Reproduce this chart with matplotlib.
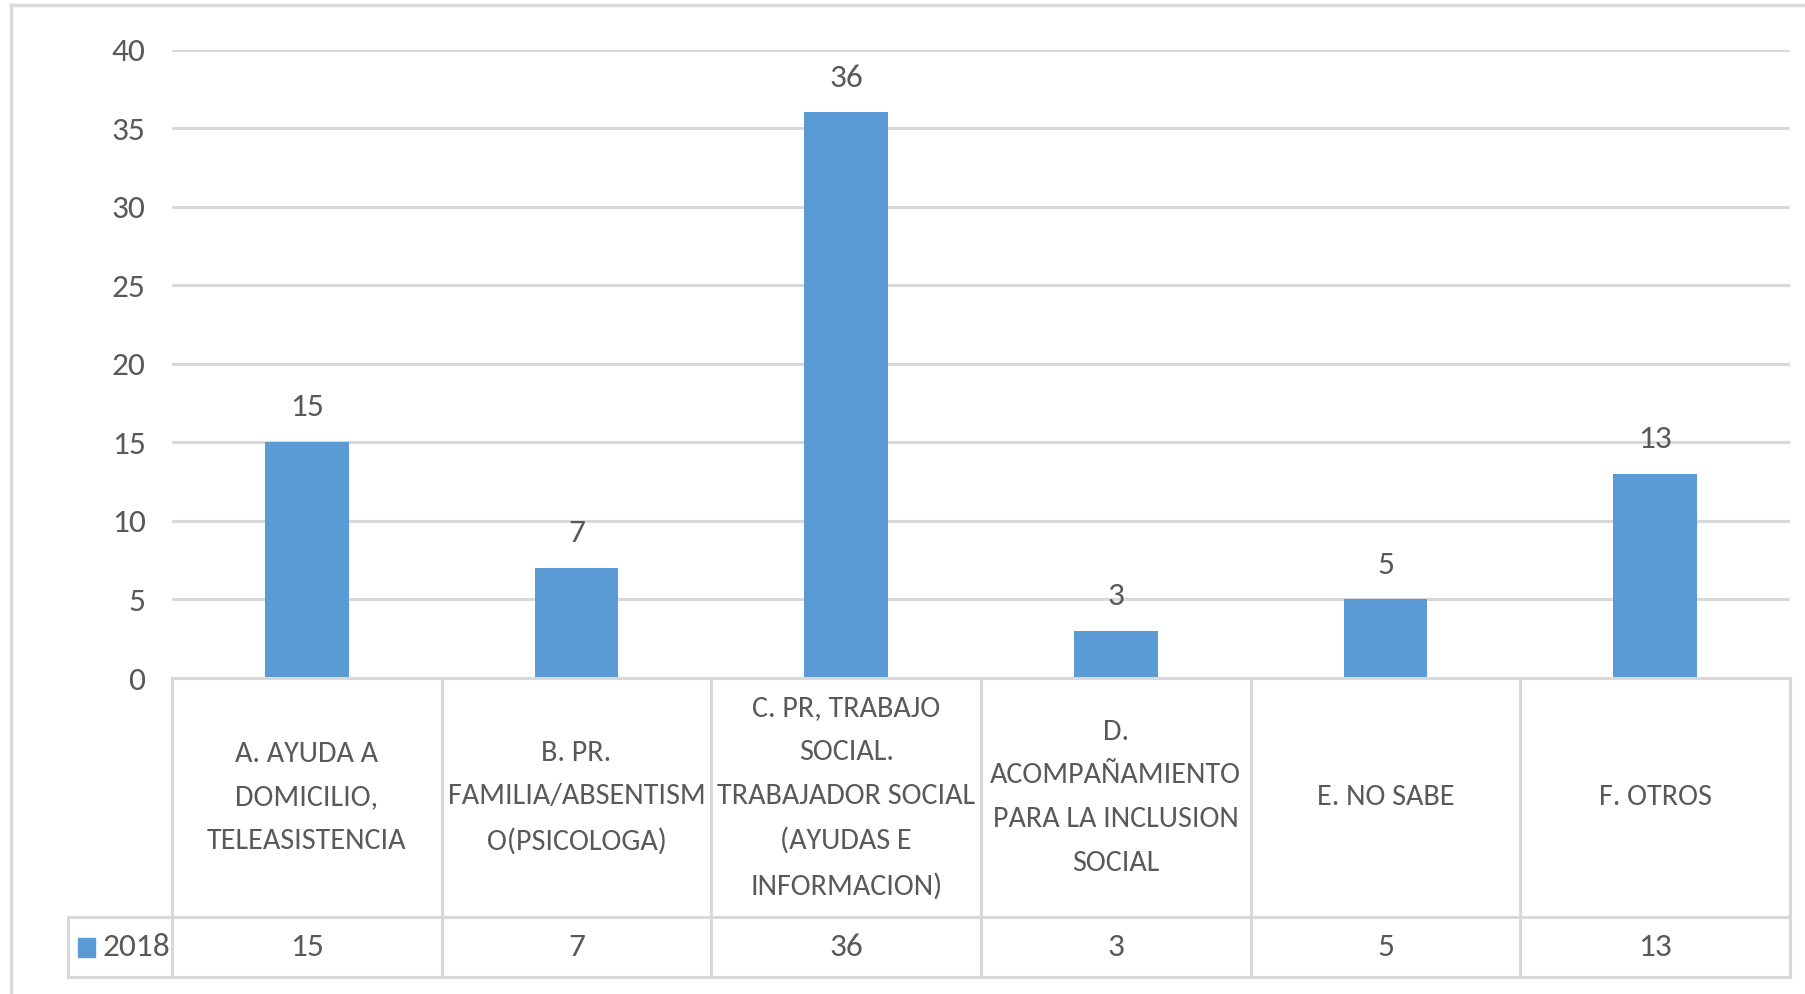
import matplotlib
matplotlib.use("Agg")
import matplotlib.pyplot as plt
from matplotlib.patches import Rectangle
from matplotlib import font_manager
from matplotlib.textpath import TextPath
from matplotlib.font_manager import FontProperties

categories = [
    "A. AYUDA A\nDOMICILIO,\nTELEASISTENCIA",
    "B. PR.\nFAMILIA/ABSENTISM\nO(PSICOLOGA)",
    "C. PR, TRABAJO\nSOCIAL.\nTRABAJADOR SOCIAL\n(AYUDAS E\nINFORMACION)",
    "D.\nACOMPAÑAMIENTO\nPARA LA INCLUSION\nSOCIAL",
    "E. NO SABE",
    "F. OTROS",
]
values_2018 = [15, 7, 36, 3, 5, 13]
series_name = "2018"
yticks = [0, 5, 10, 15, 20, 25, 30, 35, 40]

names = {f.name for f in font_manager.fontManager.ttflist}
fam = "Lato"
for cand in ["Carlito", "Roboto Condensed", "PT Sans Narrow", "Archivo Narrow",
             "Fira Sans Condensed", "Liberation Sans Narrow"]:
    if cand in names:
        fam = cand
        break
plt.rcParams["font.family"] = [fam, "DejaVu Sans"]

# fit category-label font size so the widest line matches the reference (~258 px)
fp = FontProperties(family=fam)
w_pt = TextPath((0, 0), "TRABAJADOR SOCIAL", size=20, prop=fp).get_extents().width
FS_CAT = min(20 * (258 * 0.72) / w_pt, 24)
FS = 24

BAR = "#5B9BD5"
TXT = "#595959"
GRID = "#D9D9D9"

W, H = 1805, 994
fig = plt.figure(figsize=(W / 100, H / 100), dpi=100)
x0, x1 = 172, 1790
ytop, ybot = 49.5, 678
ax = fig.add_axes([x0 / W, 1 - ybot / H, (x1 - x0) / W, (ybot - ytop) / H])

xs = list(range(len(values_2018)))
ax.bar(xs, values_2018, width=0.31, color=BAR, zorder=3)
ax.set_xlim(-0.5, len(xs) - 0.5)
ax.set_ylim(0, 40)
ax.set_yticks(yticks)
ax.set_yticklabels([str(t) for t in yticks], fontsize=FS, color=TXT)
ax.tick_params(axis="y", length=0, pad=19)
ax.set_xticks([])
for s in ax.spines.values():
    s.set_visible(False)
ax.grid(axis="y", color=GRID, linewidth=2.2, zorder=0)
ax.set_axisbelow(True)

for x, v in zip(xs, values_2018):
    ax.annotate(str(v), (x, v), xytext=(0, 15), textcoords="offset points",
                ha="center", va="bottom", fontsize=FS, color=TXT)

# data table
tr = ax.get_xaxis_transform()
axh = ybot - ytop
hdr_b = -(916.7 - ybot) / axh
row_b = -(976.7 - ybot) / axh
per = (x1 - x0) / len(xs)
leg_l = -0.5 - (x0 - 68) / per
lw = 2.2
ax.plot([-0.5, len(xs) - 0.5], [0, 0], transform=tr, color=GRID, lw=lw, clip_on=False, zorder=4)
for i in range(len(xs) + 1):
    ax.plot([i - 0.5, i - 0.5], [0, row_b], transform=tr, color=GRID, lw=lw, clip_on=False)
ax.plot([leg_l, len(xs) - 0.5], [hdr_b, hdr_b], transform=tr, color=GRID, lw=lw, clip_on=False)
ax.plot([leg_l, len(xs) - 0.5], [row_b, row_b], transform=tr, color=GRID, lw=lw, clip_on=False)
ax.plot([leg_l, leg_l], [hdr_b, row_b], transform=tr, color=GRID, lw=lw, clip_on=False)

for x, c, v in zip(xs, categories, values_2018):
    ax.text(x, hdr_b / 2, c, transform=tr, ha="center", va="center",
            fontsize=FS_CAT, color=TXT, linespacing=1.85, clip_on=False)
    ax.text(x, (hdr_b + row_b) / 2, str(v), transform=tr, ha="center", va="center",
            fontsize=FS, color=TXT, clip_on=False)

# legend key in table
fig.patches.append(Rectangle((78 / W, 1 - 957 / H), 17 / W, 19 / H,
                             transform=fig.transFigure, color=BAR))
fig.text(102 / W, 1 - 947 / H, series_name, ha="left", va="center",
         fontsize=FS, color=TXT)

# outer chart border
fig.add_artist(plt.Line2D([11 / W, 11 / W], [0, 1 - 5 / H], transform=fig.transFigure,
                          color=GRID, lw=2.5))
fig.add_artist(plt.Line2D([11 / W, 1], [1 - 5 / H, 1 - 5 / H], transform=fig.transFigure,
                          color=GRID, lw=2.5))

fig.savefig("out.png", dpi=100)
